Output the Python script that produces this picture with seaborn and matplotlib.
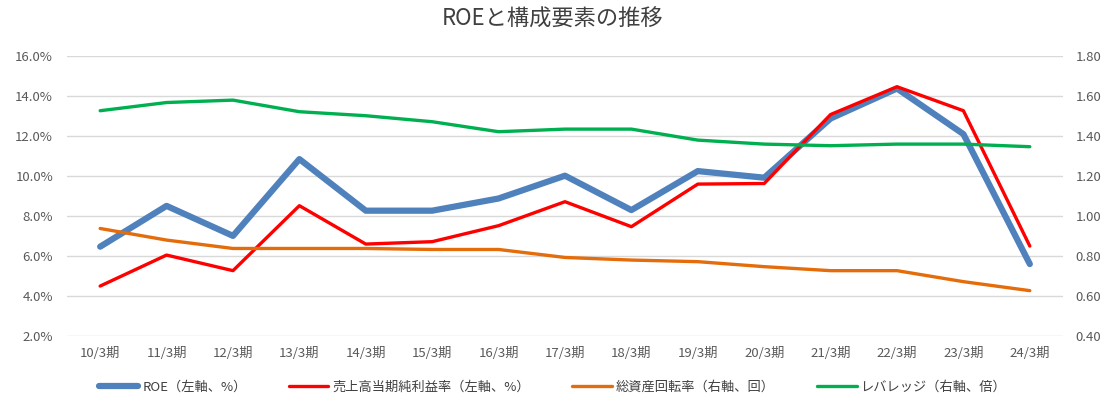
import numpy as np
import pandas as pd
import matplotlib
matplotlib.use("Agg")
import matplotlib.pyplot as plt
import seaborn as sns
from matplotlib.ticker import FuncFormatter

# data
periods = ["10/3期", "11/3期", "12/3期", "13/3期", "14/3期", "15/3期", "16/3期", "17/3期",
           "18/3期", "19/3期", "20/3期", "21/3期", "22/3期", "23/3期", "24/3期"]
roe = [6.47, 8.51, 7.01, 10.85, 8.27, 8.27, 8.88, 10.02, 8.3, 10.25, 9.92, 12.88, 14.38, 12.1, 5.6]
margin = [4.5, 6.05, 5.27, 8.52, 6.6, 6.72, 7.52, 8.72, 7.47, 9.6, 9.63, 13.08, 14.47, 13.27, 6.5]
turnover = [0.938, 0.88, 0.838, 0.838, 0.838, 0.833, 0.833, 0.793, 0.78, 0.772, 0.747, 0.727, 0.727, 0.672, 0.627]
leverage = [1.527, 1.568, 1.58, 1.522, 1.502, 1.472, 1.422, 1.435, 1.435, 1.38, 1.36, 1.352, 1.36, 1.36, 1.347]

names = ["ROE（左軸、%）", "売上高当期純利益率（左軸、%）", "総資産回転率（右軸、回）", "レバレッジ（右軸、倍）"]
colors = ["#4F81BD", "#FF0000", "#E46C0A", "#00B050"]

df = pd.DataFrame({"period": periods, "roe": roe, "margin": margin,
                   "turnover": turnover, "leverage": leverage})

sns.set_style("white")
plt.rcParams['font.family'] = ['Noto Sans CJK JP', 'DejaVu Sans']

fig = plt.figure(figsize=(11.05, 4.01), dpi=100)
ax = fig.add_axes([0.0606, 0.162, 0.9014, 0.698])
ax2 = ax.twinx()

sns.lineplot(data=df, x="period", y="roe", ax=ax, color=colors[0], linewidth=4.5, sort=False, label=names[0], legend=False)
sns.lineplot(data=df, x="period", y="margin", ax=ax, color=colors[1], linewidth=2.4, sort=False, label=names[1], legend=False)
sns.lineplot(data=df, x="period", y="turnover", ax=ax2, color=colors[2], linewidth=2.4, sort=False, label=names[2], legend=False)
sns.lineplot(data=df, x="period", y="leverage", ax=ax2, color=colors[3], linewidth=2.4, sort=False, label=names[3], legend=False)

ax.set_xlim(-0.5, len(periods) - 0.5)
ax.set_ylim(2, 16)
ax.set_yticks(np.arange(2, 16.1, 2))
ax.yaxis.set_major_formatter(FuncFormatter(lambda v, p: f"{v:.1f}%"))
ax2.set_ylim(0.4, 1.8)
ax2.set_yticks(np.arange(0.4, 1.81, 0.2))
ax2.yaxis.set_major_formatter(FuncFormatter(lambda v, p: f"{v:.2f}"))

ax.grid(axis="y", color="#D9D9D9", linewidth=1)
ax.set_axisbelow(True)
for a in (ax, ax2):
    for s in a.spines.values():
        s.set_visible(False)
    a.tick_params(length=0, labelsize=9.5, colors="#595959")
    a.set_xlabel("")
    a.set_ylabel("")
ax.tick_params(axis="x", pad=8)
ax.tick_params(axis="y", pad=10)
ax2.tick_params(axis="y", pad=9)

fig.suptitle("ROEと構成要素の推移", y=0.98, fontsize=16, color="#404040")

h1, l1 = ax.get_legend_handles_labels()
h2, l2 = ax2.get_legend_handles_labels()
fig.legend(h1 + h2, l1 + l2, loc="center", bbox_to_anchor=(0.5, 0.035), ncol=4,
           frameon=False, fontsize=9.5, handlelength=3, handletextpad=0.3,
           columnspacing=3.2, labelcolor="#404040")

fig.savefig("out.png", dpi=100)
